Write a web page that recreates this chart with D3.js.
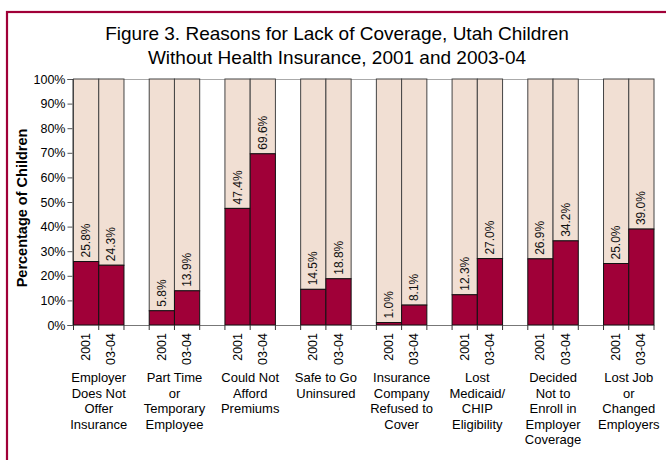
<!DOCTYPE html>
<html>
<head>
<meta charset="utf-8">
<script src="https://cdn.jsdelivr.net/npm/d3@7"></script>
<style>
  html, body { margin: 0; padding: 0; background: #fff; }
  svg { display: block; font-family: "Liberation Sans", Arial, Helvetica, sans-serif; }
</style>
</head>
<body>
<svg id="chart" width="666" height="460"></svg>
<script>
// Reasons for lack of coverage (percent of uninsured Utah children)
const categories = [
  ["Employer", "Does Not", "Offer", "Insurance"],
  ["Part Time", "or", "Temporary", "Employee"],
  ["Could Not", "Afford", "Premiums"],
  ["Safe to Go", "Uninsured"],
  ["Insurance", "Company", "Refused to", "Cover"],
  ["Lost", "Medicaid/", "CHIP", "Eligibility"],
  ["Decided", "Not to", "Enroll in", "Employer", "Coverage"],
  ["Lost Job", "or", "Changed", "Employers"]
];
const years = ["2001", "03-04"];
const values2001 = [25.8, 5.8, 47.4, 14.5, 1.0, 12.3, 26.9, 25.0];
const values0304 = [24.3, 13.9, 69.6, 18.8, 8.1, 27.0, 34.2, 39.0];
const yTicks = [0, 10, 20, 30, 40, 50, 60, 70, 80, 90, 100];

const maroon = "#A00038";
const light = "#F1DFD3";

const svg = d3.select("#chart");

// outer frame
svg.append("rect")
  .attr("x", 7).attr("y", 12)
  .attr("width", 680).attr("height", 470)
  .attr("fill", "none")
  .attr("stroke", maroon)
  .attr("stroke-width", 2.2);

// title
const title = svg.append("text")
  .attr("text-anchor", "middle")
  .attr("font-size", 19)
  .attr("fill", "#000");
title.append("tspan").attr("x", 337).attr("y", 40)
  .text("Figure 3. Reasons for Lack of Coverage, Utah Children");
title.append("tspan").attr("x", 337).attr("y", 64)
  .text("Without Health Insurance, 2001 and 2003-04");

const plotLeft = 73.5, plotRight = 654, plotTop = 79, plotBottom = 325;

const x = d3.scaleBand()
  .domain(d3.range(categories.length))
  .range([plotLeft, plotRight])
  .paddingInner(1 / 3)
  .paddingOuter(0);
const xYear = d3.scaleBand().domain(years).range([0, x.bandwidth()]);
const y = d3.scaleLinear().domain([0, 100]).range([plotBottom, plotTop]);

// plot top frame line
svg.append("line")
  .attr("x1", plotLeft).attr("x2", plotRight)
  .attr("y1", plotTop + 0.5).attr("y2", plotTop + 0.5)
  .attr("stroke", "#aaa").attr("stroke-width", 1);

// y axis
const yAxis = svg.append("g")
  .attr("transform", `translate(${plotLeft - 1},0)`)
  .call(d3.axisLeft(y).tickValues(yTicks).tickSize(5).tickPadding(2)
    .tickFormat(d => d + "%"));
yAxis.select(".domain").attr("stroke", "#333");
yAxis.selectAll(".tick line").attr("stroke", "#555");
yAxis.selectAll(".tick text")
  .attr("font-size", 12.5)
  .attr("font-family", "Liberation Sans, Arial, sans-serif")
  .attr("fill", "#000");

// y axis title
svg.append("text")
  .attr("transform", "translate(27,208) rotate(-90)")
  .attr("text-anchor", "middle")
  .attr("font-size", 14.5)
  .attr("font-weight", "bold")
  .attr("fill", "#000")
  .text("Percentage of Children");

// bar records
const bars = [];
categories.forEach((c, i) => {
  bars.push({ cat: i, year: years[0], v: values2001[i] });
  bars.push({ cat: i, year: years[1], v: values0304[i] });
});
const bx = d => x(d.cat) + xYear(d.year);
const bw = xYear.bandwidth();

const g = svg.append("g");
// remainder segment (to 100%)
g.selectAll("rect.rest").data(bars).join("rect")
  .attr("class", "rest")
  .attr("x", d => bx(d))
  .attr("y", y(100))
  .attr("width", bw)
  .attr("height", d => y(d.v) - y(100))
  .attr("fill", light)
  .attr("stroke", "#444")
  .attr("stroke-width", 1);
// reason segment
g.selectAll("rect.val").data(bars).join("rect")
  .attr("class", "val")
  .attr("x", d => bx(d))
  .attr("y", d => y(d.v))
  .attr("width", bw)
  .attr("height", d => y(0) - y(d.v))
  .attr("fill", maroon)
  .attr("stroke", "#111")
  .attr("stroke-width", 1);

// value labels
g.selectAll("text.val").data(bars).join("text")
  .attr("class", "val")
  .attr("transform", d => `translate(${bx(d) + bw / 2},${y(d.v) - 4}) rotate(-90)`)
  .attr("dominant-baseline", "central")
  .attr("font-size", 12)
  .attr("fill", "#111")
  .text(d => d.v.toFixed(1) + "%");

// x axis line and ticks at every slot boundary
svg.append("line")
  .attr("x1", plotLeft - 1).attr("x2", plotRight)
  .attr("y1", plotBottom + 0.5).attr("y2", plotBottom + 0.5)
  .attr("stroke", "#777").attr("stroke-width", 1.2);
const tickXs = [];
categories.forEach((c, i) => {
  tickXs.push(x(i), x(i) + bw, x(i) + 2 * bw);
});
svg.selectAll("line.xt").data(tickXs).join("line")
  .attr("class", "xt")
  .attr("x1", d => d).attr("x2", d => d)
  .attr("y1", plotBottom).attr("y2", plotBottom + 5)
  .attr("stroke", "#333").attr("stroke-width", 1);

// year labels
svg.selectAll("text.yr").data(bars).join("text")
  .attr("class", "yr")
  .attr("transform", d => `translate(${bx(d) + bw / 2},${plotBottom + 8}) rotate(-90)`)
  .attr("text-anchor", "end")
  .attr("dominant-baseline", "central")
  .attr("font-size", 12.5)
  .attr("fill", "#000")
  .text(d => d.year);

// category labels
const cl = svg.selectAll("text.cat").data(categories).join("text")
  .attr("class", "cat")
  .attr("text-anchor", "middle")
  .attr("font-size", 13)
  .attr("fill", "#000");
cl.selectAll("tspan").data((d, i) => d.map(t => ({ t, i })))
  .join("tspan")
  .attr("x", d => x(d.i) + x.bandwidth() / 2)
  .attr("y", (d, j) => 382 + j * 15.6)
  .text(d => d.t);
</script>
</body>
</html>
